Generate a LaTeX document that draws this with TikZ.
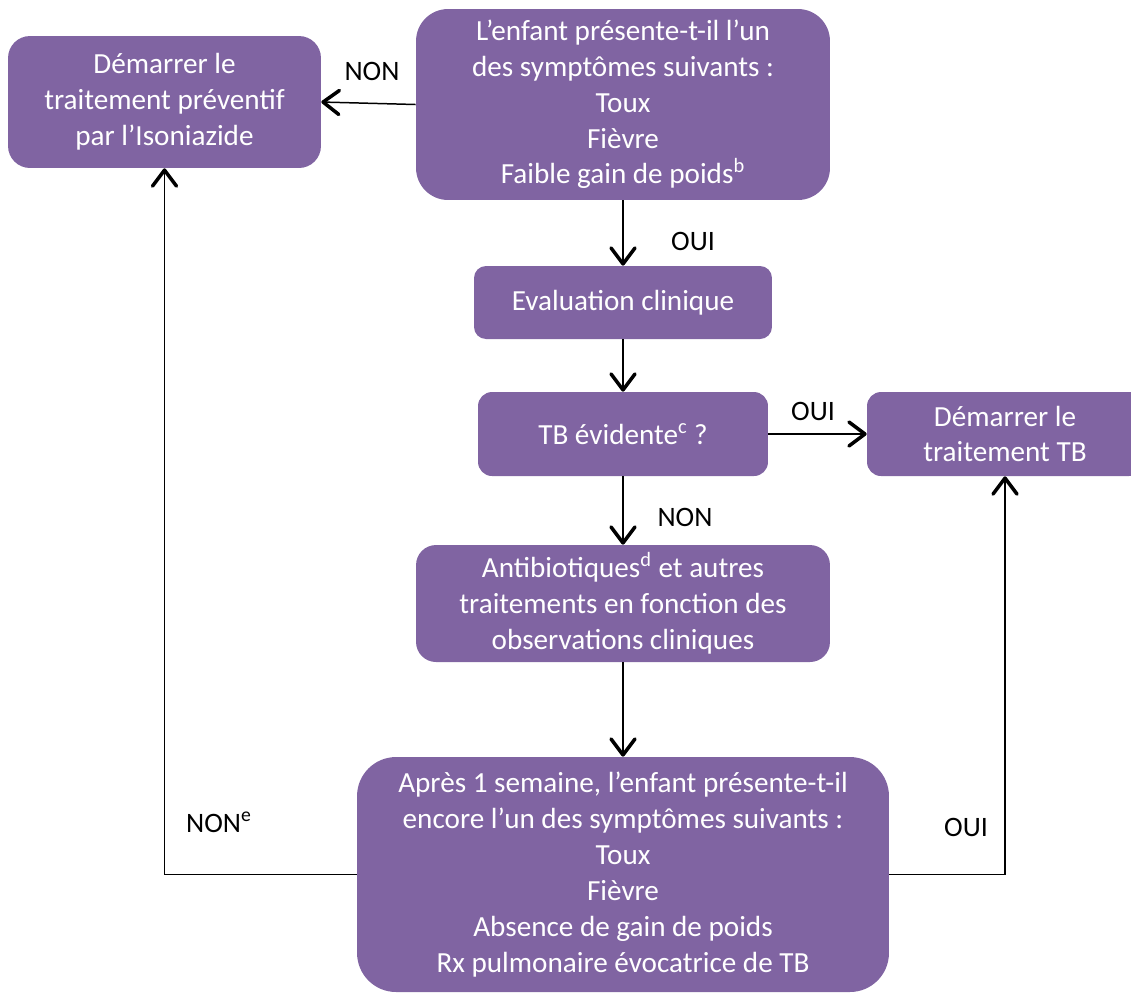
\documentclass[tikz,border=0pt]{standalone}
\usepackage{fontspec}
\setmainfont{Carlito}
\usetikzlibrary{arrows.meta}
\definecolor{boxpurple}{HTML}{8064A2}
\begin{document}
\begin{tikzpicture}[x=0.02cm,y=-0.02cm,
    box/.style={fill=boxpurple,text=white,align=center,inner sep=0pt,font=\fontsize{16.6}{20.4}\selectfont},
    flow/.style={-{Straight Barb[length=3.2mm,width=4.8mm,line width=2pt,round]},line width=0.85pt},
    lbl/.style={font=\fontsize{16}{20}\selectfont}]
    \useasboundingbox (0,0) rectangle (1131,992);
    %boxes
    \node (Prev) at (164.5,102) [box,minimum width=6.26cm,minimum height=2.64cm,rounded corners=0.44cm]{D\'emarrer le\\traitement pr\'eventif\\par l’Isoniazide};
    \node (Sympt) at (623,104.5) [box,minimum width=8.28cm,minimum height=3.82cm,rounded corners=0.64cm]{L’enfant pr\'esente-t-il l’un\\des sympt\^omes suivants :\\Toux\\Fi\`evre\\Faible gain de poids\textsuperscript{b}};
    \node (Eval) at (623,302.5) [box,minimum width=5.96cm,minimum height=1.46cm,rounded corners=0.24cm]{Evaluation clinique};
    \node (TBq) at (623,434) [box,minimum width=5.8cm,minimum height=1.68cm,rounded corners=0.28cm]{TB \'evidente\textsuperscript{c} ?};
    \node (TBstart) at (1005,434) [box,minimum width=5.52cm,minimum height=1.68cm,rounded corners=0.28cm]{D\'emarrer le\\traitement TB};
    \node (Antib) at (623,603.5) [box,minimum width=8.28cm,minimum height=2.34cm,rounded corners=0.4cm]{Antibiotiques\textsuperscript{d} et autres\\traitements en fonction des\\observations cliniques};
    \node (Week) at (623,874.5) [box,minimum width=10.64cm,minimum height=4.7cm,rounded corners=0.78cm]{Apr\`es 1 semaine, l’enfant pr\'esente-t-il\\encore l’un des sympt\^omes suivants :\\Toux\\Fi\`evre\\Absence de gain de poids\\Rx pulmonaire \'evocatrice de TB};

    %connectors
    \draw [flow] (Sympt.west) to (Prev.east);
    \draw [flow] (Sympt.south) to (Eval.north);
    \draw [flow] (Eval.south) to (TBq.north);
    \draw [flow] (TBq.east) to (TBstart.west);
    \draw [flow] (TBq.south) to (Antib.north);
    \draw [flow] (Antib.south) to (Week.north);
    \draw [flow] (Week.west) -| (Prev.south);
    \draw [flow] (Week.east) -| (TBstart.south);

    %labels
    \node (lNon1) at (372,71) [lbl]{NON};
    \node (lOui1) at (693,241) [lbl]{OUI};
    \node (lOui2) at (813,411) [lbl]{OUI};
    \node (lNon2) at (685,517) [lbl]{NON};
    \node (lNon3) at (219,822) [lbl]{NON\textsuperscript{e}};
    \node (lOui3) at (966,827) [lbl]{OUI};
\end{tikzpicture}
\end{document}
